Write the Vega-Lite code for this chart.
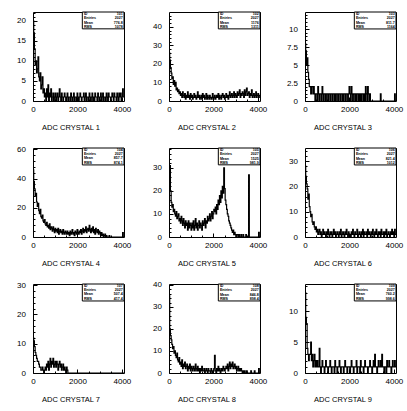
{
"$schema":"https://vega.github.io/schema/vega-lite/v6.json",
"padding":{"left":16,"top":11,"right":0,"bottom":0},
"bounds":"flush",
"columns":3,
"spacing":{"row":47,"column":45},
"datasets":{
"h1":[{"x":0,"y":20},{"x":32,"y":17},{"x":64,"y":13},{"x":96,"y":9},{"x":128,"y":10},{"x":160,"y":7},{"x":192,"y":8},{"x":224,"y":11},{"x":256,"y":6},{"x":288,"y":5},{"x":320,"y":7},{"x":352,"y":3},{"x":384,"y":4},{"x":416,"y":6},{"x":448,"y":2},{"x":480,"y":3},
{"x":512,"y":1},{"x":544,"y":2},{"x":576,"y":0},{"x":608,"y":3},{"x":640,"y":1},{"x":672,"y":4},{"x":704,"y":0},{"x":736,"y":2},{"x":768,"y":1},{"x":800,"y":3},{"x":832,"y":0},{"x":864,"y":1},{"x":896,"y":2},{"x":928,"y":0},{"x":960,"y":1},{"x":992,"y":2},
{"x":1024,"y":0},{"x":1056,"y":1},{"x":1088,"y":2},{"x":1120,"y":0},{"x":1152,"y":1},{"x":1184,"y":3},{"x":1216,"y":1},{"x":1248,"y":0},{"x":1280,"y":2},{"x":1312,"y":1},{"x":1344,"y":0},{"x":1376,"y":1},{"x":1408,"y":2},{"x":1440,"y":1},{"x":1472,"y":0},{"x":1504,"y":1},
{"x":1536,"y":2},{"x":1568,"y":0},{"x":1600,"y":1},{"x":1632,"y":1},{"x":1664,"y":0},{"x":1696,"y":2},{"x":1728,"y":1},{"x":1760,"y":0},{"x":1792,"y":1},{"x":1824,"y":2},{"x":1856,"y":0},{"x":1888,"y":1},{"x":1920,"y":1},{"x":1952,"y":0},{"x":1984,"y":2},{"x":2016,"y":1},
{"x":2048,"y":0},{"x":2080,"y":1},{"x":2112,"y":2},{"x":2144,"y":1},{"x":2176,"y":0},{"x":2208,"y":1},{"x":2240,"y":1},{"x":2272,"y":2},{"x":2304,"y":0},{"x":2336,"y":1},{"x":2368,"y":2},{"x":2400,"y":0},{"x":2432,"y":1},{"x":2464,"y":1},{"x":2496,"y":0},{"x":2528,"y":2},
{"x":2560,"y":1},{"x":2592,"y":0},{"x":2624,"y":1},{"x":2656,"y":2},{"x":2688,"y":0},{"x":2720,"y":1},{"x":2752,"y":0},{"x":2784,"y":2},{"x":2816,"y":1},{"x":2848,"y":1},{"x":2880,"y":0},{"x":2912,"y":2},{"x":2944,"y":1},{"x":2976,"y":0},{"x":3008,"y":1},{"x":3040,"y":2},
{"x":3072,"y":0},{"x":3104,"y":1},{"x":3136,"y":2},{"x":3168,"y":0},{"x":3200,"y":1},{"x":3232,"y":1},{"x":3264,"y":0},{"x":3296,"y":2},{"x":3328,"y":1},{"x":3360,"y":0},{"x":3392,"y":2},{"x":3424,"y":1},{"x":3456,"y":1},{"x":3488,"y":0},{"x":3520,"y":1},{"x":3552,"y":2},
{"x":3584,"y":1},{"x":3616,"y":0},{"x":3648,"y":2},{"x":3680,"y":1},{"x":3712,"y":1},{"x":3744,"y":0},{"x":3776,"y":2},{"x":3808,"y":1},{"x":3840,"y":0},{"x":3872,"y":2},{"x":3904,"y":1},{"x":3936,"y":2},{"x":3968,"y":0},{"x":4000,"y":1},{"x":4032,"y":3},{"x":4064,"y":1},{"x":4096,"y":1}],
"h2":[{"x":0,"y":26},{"x":32,"y":22},{"x":64,"y":18},{"x":96,"y":15},{"x":128,"y":12},{"x":160,"y":13},{"x":192,"y":9},{"x":224,"y":11},{"x":256,"y":8},{"x":288,"y":10},{"x":320,"y":6},{"x":352,"y":7},{"x":384,"y":5},{"x":416,"y":6},{"x":448,"y":4},{"x":480,"y":5},
{"x":512,"y":3},{"x":544,"y":4},{"x":576,"y":2},{"x":608,"y":5},{"x":640,"y":3},{"x":672,"y":2},{"x":704,"y":4},{"x":736,"y":1},{"x":768,"y":3},{"x":800,"y":2},{"x":832,"y":5},{"x":864,"y":2},{"x":896,"y":3},{"x":928,"y":1},{"x":960,"y":4},{"x":992,"y":2},
{"x":1024,"y":3},{"x":1056,"y":1},{"x":1088,"y":2},{"x":1120,"y":4},{"x":1152,"y":2},{"x":1184,"y":3},{"x":1216,"y":1},{"x":1248,"y":2},{"x":1280,"y":5},{"x":1312,"y":2},{"x":1344,"y":3},{"x":1376,"y":1},{"x":1408,"y":2},{"x":1440,"y":3},{"x":1472,"y":1},{"x":1504,"y":4},
{"x":1536,"y":2},{"x":1568,"y":3},{"x":1600,"y":1},{"x":1632,"y":2},{"x":1664,"y":4},{"x":1696,"y":1},{"x":1728,"y":3},{"x":1760,"y":2},{"x":1792,"y":1},{"x":1824,"y":3},{"x":1856,"y":2},{"x":1888,"y":1},{"x":1920,"y":2},{"x":1952,"y":4},{"x":1984,"y":1},{"x":2016,"y":2},
{"x":2048,"y":3},{"x":2080,"y":1},{"x":2112,"y":2},{"x":2144,"y":3},{"x":2176,"y":2},{"x":2208,"y":4},{"x":2240,"y":1},{"x":2272,"y":3},{"x":2304,"y":2},{"x":2336,"y":1},{"x":2368,"y":3},{"x":2400,"y":4},{"x":2432,"y":2},{"x":2464,"y":3},{"x":2496,"y":1},{"x":2528,"y":2},
{"x":2560,"y":4},{"x":2592,"y":2},{"x":2624,"y":3},{"x":2656,"y":1},{"x":2688,"y":3},{"x":2720,"y":5},{"x":2752,"y":2},{"x":2784,"y":3},{"x":2816,"y":4},{"x":2848,"y":2},{"x":2880,"y":3},{"x":2912,"y":5},{"x":2944,"y":2},{"x":2976,"y":4},{"x":3008,"y":3},{"x":3040,"y":2},
{"x":3072,"y":5},{"x":3104,"y":3},{"x":3136,"y":4},{"x":3168,"y":6},{"x":3200,"y":2},{"x":3232,"y":4},{"x":3264,"y":3},{"x":3296,"y":5},{"x":3328,"y":4},{"x":3360,"y":2},{"x":3392,"y":6},{"x":3424,"y":3},{"x":3456,"y":5},{"x":3488,"y":7},{"x":3520,"y":3},{"x":3552,"y":4},
{"x":3584,"y":5},{"x":3616,"y":2},{"x":3648,"y":4},{"x":3680,"y":3},{"x":3712,"y":6},{"x":3744,"y":2},{"x":3776,"y":3},{"x":3808,"y":4},{"x":3840,"y":2},{"x":3872,"y":3},{"x":3904,"y":5},{"x":3936,"y":2},{"x":3968,"y":3},{"x":4000,"y":4},{"x":4032,"y":2},{"x":4064,"y":3},{"x":4096,"y":3}],
"h3":[{"x":0,"y":8},{"x":32,"y":7},{"x":64,"y":5},{"x":96,"y":6},{"x":128,"y":4},{"x":160,"y":3},{"x":192,"y":2},{"x":224,"y":2},{"x":256,"y":1},{"x":288,"y":2},{"x":320,"y":2},{"x":352,"y":1},{"x":384,"y":2},{"x":416,"y":1},{"x":448,"y":0},{"x":480,"y":1},
{"x":512,"y":1},{"x":544,"y":0},{"x":576,"y":2},{"x":608,"y":1},{"x":640,"y":0},{"x":672,"y":1},{"x":704,"y":1},{"x":736,"y":0},{"x":768,"y":2},{"x":800,"y":1},{"x":832,"y":0},{"x":864,"y":1},{"x":896,"y":1},{"x":928,"y":0},{"x":960,"y":1},{"x":992,"y":1},
{"x":1024,"y":0},{"x":1056,"y":1},{"x":1088,"y":1},{"x":1120,"y":0},{"x":1152,"y":1},{"x":1184,"y":1},{"x":1216,"y":0},{"x":1248,"y":1},{"x":1280,"y":1},{"x":1312,"y":0},{"x":1344,"y":1},{"x":1376,"y":0},{"x":1408,"y":1},{"x":1440,"y":1},{"x":1472,"y":0},{"x":1504,"y":1},
{"x":1536,"y":1},{"x":1568,"y":0},{"x":1600,"y":1},{"x":1632,"y":1},{"x":1664,"y":0},{"x":1696,"y":1},{"x":1728,"y":0},{"x":1760,"y":1},{"x":1792,"y":1},{"x":1824,"y":0},{"x":1856,"y":1},{"x":1888,"y":1},{"x":1920,"y":0},{"x":1952,"y":1},{"x":1984,"y":2},{"x":2016,"y":1},
{"x":2048,"y":0},{"x":2080,"y":2},{"x":2112,"y":1},{"x":2144,"y":0},{"x":2176,"y":1},{"x":2208,"y":1},{"x":2240,"y":0},{"x":2272,"y":1},{"x":2304,"y":0},{"x":2336,"y":1},{"x":2368,"y":1},{"x":2400,"y":0},{"x":2432,"y":1},{"x":2464,"y":0},{"x":2496,"y":1},{"x":2528,"y":0},
{"x":2560,"y":1},{"x":2592,"y":1},{"x":2624,"y":0},{"x":2656,"y":1},{"x":2688,"y":0},{"x":2720,"y":2},{"x":2752,"y":1},{"x":2784,"y":0},{"x":2816,"y":2},{"x":2848,"y":1},{"x":2880,"y":0},{"x":2912,"y":1},{"x":2944,"y":0},{"x":2976,"y":0},{"x":3008,"y":0},{"x":3040,"y":0},
{"x":3072,"y":0},{"x":3104,"y":0},{"x":3136,"y":0},{"x":3168,"y":0},{"x":3200,"y":0},{"x":3232,"y":0},{"x":3264,"y":0},{"x":3296,"y":0},{"x":3328,"y":0},{"x":3360,"y":0},{"x":3392,"y":1},{"x":3424,"y":0},{"x":3456,"y":0},{"x":3488,"y":0},{"x":3520,"y":0},{"x":3552,"y":0},
{"x":3584,"y":0},{"x":3616,"y":0},{"x":3648,"y":0},{"x":3680,"y":0},{"x":3712,"y":0},{"x":3744,"y":0},{"x":3776,"y":0},{"x":3808,"y":0},{"x":3840,"y":0},{"x":3872,"y":0},{"x":3904,"y":0},{"x":3936,"y":0},{"x":3968,"y":0},{"x":4000,"y":0},{"x":4032,"y":1},{"x":4064,"y":0},{"x":4096,"y":0}],
"h4":[{"x":0,"y":46},{"x":32,"y":38},{"x":64,"y":33},{"x":96,"y":28},{"x":128,"y":30},{"x":160,"y":24},{"x":192,"y":21},{"x":224,"y":23},{"x":256,"y":18},{"x":288,"y":16},{"x":320,"y":19},{"x":352,"y":14},{"x":384,"y":13},{"x":416,"y":15},{"x":448,"y":11},{"x":480,"y":10},
{"x":512,"y":12},{"x":544,"y":9},{"x":576,"y":8},{"x":608,"y":10},{"x":640,"y":7},{"x":672,"y":8},{"x":704,"y":6},{"x":736,"y":9},{"x":768,"y":5},{"x":800,"y":7},{"x":832,"y":6},{"x":864,"y":4},{"x":896,"y":7},{"x":928,"y":5},{"x":960,"y":3},{"x":992,"y":6},
{"x":1024,"y":4},{"x":1056,"y":5},{"x":1088,"y":3},{"x":1120,"y":6},{"x":1152,"y":2},{"x":1184,"y":4},{"x":1216,"y":5},{"x":1248,"y":3},{"x":1280,"y":4},{"x":1312,"y":2},{"x":1344,"y":5},{"x":1376,"y":3},{"x":1408,"y":2},{"x":1440,"y":4},{"x":1472,"y":3},{"x":1504,"y":2},
{"x":1536,"y":4},{"x":1568,"y":2},{"x":1600,"y":3},{"x":1632,"y":1},{"x":1664,"y":4},{"x":1696,"y":2},{"x":1728,"y":3},{"x":1760,"y":5},{"x":1792,"y":2},{"x":1824,"y":3},{"x":1856,"y":1},{"x":1888,"y":4},{"x":1920,"y":3},{"x":1952,"y":2},{"x":1984,"y":5},{"x":2016,"y":3},
{"x":2048,"y":2},{"x":2080,"y":4},{"x":2112,"y":3},{"x":2144,"y":5},{"x":2176,"y":2},{"x":2208,"y":4},{"x":2240,"y":6},{"x":2272,"y":3},{"x":2304,"y":5},{"x":2336,"y":4},{"x":2368,"y":7},{"x":2400,"y":3},{"x":2432,"y":5},{"x":2464,"y":6},{"x":2496,"y":4},{"x":2528,"y":8},
{"x":2560,"y":5},{"x":2592,"y":3},{"x":2624,"y":6},{"x":2656,"y":4},{"x":2688,"y":7},{"x":2720,"y":3},{"x":2752,"y":5},{"x":2784,"y":2},{"x":2816,"y":6},{"x":2848,"y":4},{"x":2880,"y":3},{"x":2912,"y":5},{"x":2944,"y":2},{"x":2976,"y":4},{"x":3008,"y":3},{"x":3040,"y":1},
{"x":3072,"y":3},{"x":3104,"y":1},{"x":3136,"y":2},{"x":3168,"y":0},{"x":3200,"y":1},{"x":3232,"y":2},{"x":3264,"y":0},{"x":3296,"y":1},{"x":3328,"y":0},{"x":3360,"y":0},{"x":3392,"y":0},{"x":3424,"y":1},{"x":3456,"y":0},{"x":3488,"y":0},{"x":3520,"y":0},{"x":3552,"y":0},
{"x":3584,"y":0},{"x":3616,"y":0},{"x":3648,"y":0},{"x":3680,"y":0},{"x":3712,"y":0},{"x":3744,"y":0},{"x":3776,"y":0},{"x":3808,"y":0},{"x":3840,"y":0},{"x":3872,"y":0},{"x":3904,"y":0},{"x":3936,"y":0},{"x":3968,"y":0},{"x":4000,"y":0},{"x":4032,"y":3},{"x":4064,"y":0},{"x":4096,"y":0}],
"h5":[{"x":0,"y":24},{"x":32,"y":31},{"x":64,"y":20},{"x":96,"y":15},{"x":128,"y":13},{"x":160,"y":14},{"x":192,"y":11},{"x":224,"y":12},{"x":256,"y":10},{"x":288,"y":9},{"x":320,"y":11},{"x":352,"y":8},{"x":384,"y":9},{"x":416,"y":10},{"x":448,"y":7},{"x":480,"y":8},
{"x":512,"y":6},{"x":544,"y":9},{"x":576,"y":7},{"x":608,"y":5},{"x":640,"y":8},{"x":672,"y":6},{"x":704,"y":4},{"x":736,"y":7},{"x":768,"y":5},{"x":800,"y":6},{"x":832,"y":3},{"x":864,"y":7},{"x":896,"y":4},{"x":928,"y":6},{"x":960,"y":5},{"x":992,"y":3},
{"x":1024,"y":6},{"x":1056,"y":4},{"x":1088,"y":7},{"x":1120,"y":3},{"x":1152,"y":5},{"x":1184,"y":8},{"x":1216,"y":4},{"x":1248,"y":6},{"x":1280,"y":3},{"x":1312,"y":5},{"x":1344,"y":7},{"x":1376,"y":4},{"x":1408,"y":6},{"x":1440,"y":5},{"x":1472,"y":3},{"x":1504,"y":7},
{"x":1536,"y":5},{"x":1568,"y":6},{"x":1600,"y":8},{"x":1632,"y":4},{"x":1664,"y":7},{"x":1696,"y":6},{"x":1728,"y":9},{"x":1760,"y":7},{"x":1792,"y":8},{"x":1824,"y":10},{"x":1856,"y":7},{"x":1888,"y":9},{"x":1920,"y":11},{"x":1952,"y":8},{"x":1984,"y":10},{"x":2016,"y":12},
{"x":2048,"y":11},{"x":2080,"y":13},{"x":2112,"y":10},{"x":2144,"y":14},{"x":2176,"y":12},{"x":2208,"y":16},{"x":2240,"y":14},{"x":2272,"y":18},{"x":2304,"y":15},{"x":2336,"y":20},{"x":2368,"y":17},{"x":2400,"y":22},{"x":2432,"y":19},{"x":2464,"y":30},{"x":2496,"y":21},{"x":2528,"y":16},
{"x":2560,"y":14},{"x":2592,"y":12},{"x":2624,"y":10},{"x":2656,"y":9},{"x":2688,"y":7},{"x":2720,"y":6},{"x":2752,"y":5},{"x":2784,"y":4},{"x":2816,"y":3},{"x":2848,"y":2},{"x":2880,"y":3},{"x":2912,"y":1},{"x":2944,"y":2},{"x":2976,"y":1},{"x":3008,"y":0},{"x":3040,"y":1},
{"x":3072,"y":1},{"x":3104,"y":0},{"x":3136,"y":1},{"x":3168,"y":0},{"x":3200,"y":0},{"x":3232,"y":1},{"x":3264,"y":0},{"x":3296,"y":0},{"x":3328,"y":1},{"x":3360,"y":0},{"x":3392,"y":0},{"x":3424,"y":0},{"x":3456,"y":1},{"x":3488,"y":0},{"x":3520,"y":0},{"x":3552,"y":0},
{"x":3584,"y":27},{"x":3616,"y":0},{"x":3648,"y":0},{"x":3680,"y":0},{"x":3712,"y":0},{"x":3744,"y":0},{"x":3776,"y":0},{"x":3808,"y":0},{"x":3840,"y":0},{"x":3872,"y":0},{"x":3904,"y":0},{"x":3936,"y":0},{"x":3968,"y":0},{"x":4000,"y":0},{"x":4032,"y":2},{"x":4064,"y":0},{"x":4096,"y":0}],
"h6":[{"x":0,"y":28},{"x":32,"y":24},{"x":64,"y":21},{"x":96,"y":19},{"x":128,"y":15},{"x":160,"y":17},{"x":192,"y":12},{"x":224,"y":10},{"x":256,"y":8},{"x":288,"y":9},{"x":320,"y":6},{"x":352,"y":5},{"x":384,"y":6},{"x":416,"y":4},{"x":448,"y":3},{"x":480,"y":4},
{"x":512,"y":2},{"x":544,"y":3},{"x":576,"y":1},{"x":608,"y":2},{"x":640,"y":3},{"x":672,"y":1},{"x":704,"y":2},{"x":736,"y":0},{"x":768,"y":1},{"x":800,"y":3},{"x":832,"y":1},{"x":864,"y":2},{"x":896,"y":1},{"x":928,"y":0},{"x":960,"y":2},{"x":992,"y":1},
{"x":1024,"y":3},{"x":1056,"y":1},{"x":1088,"y":0},{"x":1120,"y":2},{"x":1152,"y":1},{"x":1184,"y":2},{"x":1216,"y":0},{"x":1248,"y":1},{"x":1280,"y":3},{"x":1312,"y":1},{"x":1344,"y":2},{"x":1376,"y":0},{"x":1408,"y":1},{"x":1440,"y":2},{"x":1472,"y":1},{"x":1504,"y":0},
{"x":1536,"y":2},{"x":1568,"y":1},{"x":1600,"y":3},{"x":1632,"y":0},{"x":1664,"y":1},{"x":1696,"y":2},{"x":1728,"y":1},{"x":1760,"y":0},{"x":1792,"y":2},{"x":1824,"y":1},{"x":1856,"y":3},{"x":1888,"y":1},{"x":1920,"y":0},{"x":1952,"y":2},{"x":1984,"y":1},{"x":2016,"y":1},
{"x":2048,"y":0},{"x":2080,"y":2},{"x":2112,"y":1},{"x":2144,"y":3},{"x":2176,"y":1},{"x":2208,"y":0},{"x":2240,"y":2},{"x":2272,"y":1},{"x":2304,"y":1},{"x":2336,"y":3},{"x":2368,"y":0},{"x":2400,"y":1},{"x":2432,"y":2},{"x":2464,"y":1},{"x":2496,"y":0},{"x":2528,"y":2},
{"x":2560,"y":1},{"x":2592,"y":3},{"x":2624,"y":0},{"x":2656,"y":2},{"x":2688,"y":1},{"x":2720,"y":1},{"x":2752,"y":2},{"x":2784,"y":0},{"x":2816,"y":3},{"x":2848,"y":1},{"x":2880,"y":2},{"x":2912,"y":1},{"x":2944,"y":0},{"x":2976,"y":2},{"x":3008,"y":1},{"x":3040,"y":3},
{"x":3072,"y":1},{"x":3104,"y":0},{"x":3136,"y":2},{"x":3168,"y":1},{"x":3200,"y":3},{"x":3232,"y":1},{"x":3264,"y":0},{"x":3296,"y":2},{"x":3328,"y":1},{"x":3360,"y":2},{"x":3392,"y":0},{"x":3424,"y":3},{"x":3456,"y":1},{"x":3488,"y":1},{"x":3520,"y":2},{"x":3552,"y":0},
{"x":3584,"y":2},{"x":3616,"y":1},{"x":3648,"y":3},{"x":3680,"y":0},{"x":3712,"y":1},{"x":3744,"y":2},{"x":3776,"y":1},{"x":3808,"y":0},{"x":3840,"y":2},{"x":3872,"y":1},{"x":3904,"y":3},{"x":3936,"y":1},{"x":3968,"y":2},{"x":4000,"y":0},{"x":4032,"y":3},{"x":4064,"y":1},{"x":4096,"y":1}],
"h7":[{"x":0,"y":12},{"x":32,"y":11},{"x":64,"y":9},{"x":96,"y":7},{"x":128,"y":6},{"x":160,"y":5},{"x":192,"y":4},{"x":224,"y":4},{"x":256,"y":3},{"x":288,"y":2},{"x":320,"y":2},{"x":352,"y":1},{"x":384,"y":1},{"x":416,"y":2},{"x":448,"y":1},{"x":480,"y":0},
{"x":512,"y":1},{"x":544,"y":2},{"x":576,"y":1},{"x":608,"y":3},{"x":640,"y":2},{"x":672,"y":4},{"x":704,"y":1},{"x":736,"y":3},{"x":768,"y":5},{"x":800,"y":2},{"x":832,"y":4},{"x":864,"y":3},{"x":896,"y":5},{"x":928,"y":2},{"x":960,"y":3},{"x":992,"y":4},
{"x":1024,"y":2},{"x":1056,"y":4},{"x":1088,"y":3},{"x":1120,"y":1},{"x":1152,"y":3},{"x":1184,"y":4},{"x":1216,"y":2},{"x":1248,"y":3},{"x":1280,"y":1},{"x":1312,"y":2},{"x":1344,"y":3},{"x":1376,"y":1},{"x":1408,"y":2},{"x":1440,"y":1},{"x":1472,"y":0},{"x":1504,"y":2},
{"x":1536,"y":1},{"x":1568,"y":0},{"x":1600,"y":0},{"x":1632,"y":0},{"x":1664,"y":0},{"x":1696,"y":0},{"x":1728,"y":0},{"x":1760,"y":0},{"x":1792,"y":0},{"x":1824,"y":0},{"x":1856,"y":0},{"x":1888,"y":0},{"x":1920,"y":0},{"x":1952,"y":0},{"x":1984,"y":0},{"x":2016,"y":0},
{"x":2048,"y":0},{"x":2080,"y":0},{"x":2112,"y":0},{"x":2144,"y":0},{"x":2176,"y":0},{"x":2208,"y":0},{"x":2240,"y":0},{"x":2272,"y":0},{"x":2304,"y":0},{"x":2336,"y":0},{"x":2368,"y":0},{"x":2400,"y":0},{"x":2432,"y":0},{"x":2464,"y":0},{"x":2496,"y":0},{"x":2528,"y":0},
{"x":2560,"y":0},{"x":2592,"y":0},{"x":2624,"y":0},{"x":2656,"y":0},{"x":2688,"y":0},{"x":2720,"y":0},{"x":2752,"y":0},{"x":2784,"y":0},{"x":2816,"y":0},{"x":2848,"y":0},{"x":2880,"y":0},{"x":2912,"y":0},{"x":2944,"y":0},{"x":2976,"y":0},{"x":3008,"y":0},{"x":3040,"y":0},
{"x":3072,"y":0},{"x":3104,"y":0},{"x":3136,"y":0},{"x":3168,"y":0},{"x":3200,"y":0},{"x":3232,"y":0},{"x":3264,"y":0},{"x":3296,"y":0},{"x":3328,"y":0},{"x":3360,"y":0},{"x":3392,"y":0},{"x":3424,"y":0},{"x":3456,"y":0},{"x":3488,"y":0},{"x":3520,"y":0},{"x":3552,"y":0},
{"x":3584,"y":0},{"x":3616,"y":0},{"x":3648,"y":0},{"x":3680,"y":0},{"x":3712,"y":0},{"x":3744,"y":0},{"x":3776,"y":0},{"x":3808,"y":0},{"x":3840,"y":0},{"x":3872,"y":0},{"x":3904,"y":0},{"x":3936,"y":0},{"x":3968,"y":0},{"x":4000,"y":0},{"x":4032,"y":0},{"x":4064,"y":0},{"x":4096,"y":0}],
"h8":[{"x":0,"y":35},{"x":32,"y":20},{"x":64,"y":17},{"x":96,"y":15},{"x":128,"y":13},{"x":160,"y":11},{"x":192,"y":12},{"x":224,"y":9},{"x":256,"y":10},{"x":288,"y":8},{"x":320,"y":7},{"x":352,"y":9},{"x":384,"y":6},{"x":416,"y":5},{"x":448,"y":7},{"x":480,"y":4},
{"x":512,"y":5},{"x":544,"y":3},{"x":576,"y":6},{"x":608,"y":2},{"x":640,"y":4},{"x":672,"y":3},{"x":704,"y":5},{"x":736,"y":2},{"x":768,"y":3},{"x":800,"y":4},{"x":832,"y":1},{"x":864,"y":3},{"x":896,"y":2},{"x":928,"y":4},{"x":960,"y":1},{"x":992,"y":3},
{"x":1024,"y":2},{"x":1056,"y":1},{"x":1088,"y":3},{"x":1120,"y":2},{"x":1152,"y":1},{"x":1184,"y":4},{"x":1216,"y":2},{"x":1248,"y":1},{"x":1280,"y":3},{"x":1312,"y":1},{"x":1344,"y":2},{"x":1376,"y":0},{"x":1408,"y":2},{"x":1440,"y":1},{"x":1472,"y":3},{"x":1504,"y":1},
{"x":1536,"y":1},{"x":1568,"y":2},{"x":1600,"y":0},{"x":1632,"y":1},{"x":1664,"y":2},{"x":1696,"y":1},{"x":1728,"y":0},{"x":1760,"y":2},{"x":1792,"y":1},{"x":1824,"y":1},{"x":1856,"y":0},{"x":1888,"y":2},{"x":1920,"y":1},{"x":1952,"y":0},{"x":1984,"y":1},{"x":2016,"y":2},
{"x":2048,"y":8},{"x":2080,"y":1},{"x":2112,"y":0},{"x":2144,"y":2},{"x":2176,"y":1},{"x":2208,"y":3},{"x":2240,"y":1},{"x":2272,"y":2},{"x":2304,"y":0},{"x":2336,"y":1},{"x":2368,"y":2},{"x":2400,"y":1},{"x":2432,"y":3},{"x":2464,"y":2},{"x":2496,"y":1},{"x":2528,"y":2},
{"x":2560,"y":3},{"x":2592,"y":2},{"x":2624,"y":4},{"x":2656,"y":1},{"x":2688,"y":3},{"x":2720,"y":5},{"x":2752,"y":2},{"x":2784,"y":4},{"x":2816,"y":3},{"x":2848,"y":5},{"x":2880,"y":2},{"x":2912,"y":3},{"x":2944,"y":4},{"x":2976,"y":2},{"x":3008,"y":3},{"x":3040,"y":1},
{"x":3072,"y":2},{"x":3104,"y":3},{"x":3136,"y":1},{"x":3168,"y":2},{"x":3200,"y":1},{"x":3232,"y":2},{"x":3264,"y":1},{"x":3296,"y":0},{"x":3328,"y":1},{"x":3360,"y":0},{"x":3392,"y":1},{"x":3424,"y":0},{"x":3456,"y":0},{"x":3488,"y":1},{"x":3520,"y":0},{"x":3552,"y":0},
{"x":3584,"y":0},{"x":3616,"y":0},{"x":3648,"y":0},{"x":3680,"y":1},{"x":3712,"y":0},{"x":3744,"y":0},{"x":3776,"y":0},{"x":3808,"y":0},{"x":3840,"y":1},{"x":3872,"y":0},{"x":3904,"y":0},{"x":3936,"y":0},{"x":3968,"y":0},{"x":4000,"y":0},{"x":4032,"y":2},{"x":4064,"y":0},{"x":4096,"y":0}],
"h9":[{"x":0,"y":13},{"x":32,"y":9},{"x":64,"y":8},{"x":96,"y":4},{"x":128,"y":3},{"x":160,"y":2},{"x":192,"y":3},{"x":224,"y":3},{"x":256,"y":5},{"x":288,"y":2},{"x":320,"y":3},{"x":352,"y":1},{"x":384,"y":2},{"x":416,"y":3},{"x":448,"y":1},{"x":480,"y":2},
{"x":512,"y":1},{"x":544,"y":2},{"x":576,"y":1},{"x":608,"y":1},{"x":640,"y":4},{"x":672,"y":1},{"x":704,"y":0},{"x":736,"y":1},{"x":768,"y":2},{"x":800,"y":1},{"x":832,"y":1},{"x":864,"y":0},{"x":896,"y":1},{"x":928,"y":2},{"x":960,"y":1},{"x":992,"y":1},
{"x":1024,"y":0},{"x":1056,"y":1},{"x":1088,"y":1},{"x":1120,"y":2},{"x":1152,"y":1},{"x":1184,"y":0},{"x":1216,"y":1},{"x":1248,"y":1},{"x":1280,"y":1},{"x":1312,"y":0},{"x":1344,"y":2},{"x":1376,"y":1},{"x":1408,"y":1},{"x":1440,"y":0},{"x":1472,"y":1},{"x":1504,"y":1},
{"x":1536,"y":2},{"x":1568,"y":1},{"x":1600,"y":0},{"x":1632,"y":1},{"x":1664,"y":1},{"x":1696,"y":1},{"x":1728,"y":0},{"x":1760,"y":1},{"x":1792,"y":2},{"x":1824,"y":1},{"x":1856,"y":1},{"x":1888,"y":0},{"x":1920,"y":1},{"x":1952,"y":1},{"x":1984,"y":1},{"x":2016,"y":0},
{"x":2048,"y":1},{"x":2080,"y":2},{"x":2112,"y":1},{"x":2144,"y":1},{"x":2176,"y":0},{"x":2208,"y":1},{"x":2240,"y":1},{"x":2272,"y":1},{"x":2304,"y":2},{"x":2336,"y":0},{"x":2368,"y":1},{"x":2400,"y":1},{"x":2432,"y":1},{"x":2464,"y":0},{"x":2496,"y":2},{"x":2528,"y":1},
{"x":2560,"y":1},{"x":2592,"y":1},{"x":2624,"y":0},{"x":2656,"y":1},{"x":2688,"y":2},{"x":2720,"y":1},{"x":2752,"y":1},{"x":2784,"y":1},{"x":2816,"y":0},{"x":2848,"y":1},{"x":2880,"y":1},{"x":2912,"y":2},{"x":2944,"y":1},{"x":2976,"y":1},{"x":3008,"y":0},{"x":3040,"y":1},
{"x":3072,"y":2},{"x":3104,"y":1},{"x":3136,"y":3},{"x":3168,"y":1},{"x":3200,"y":1},{"x":3232,"y":0},{"x":3264,"y":1},{"x":3296,"y":2},{"x":3328,"y":1},{"x":3360,"y":1},{"x":3392,"y":2},{"x":3424,"y":1},{"x":3456,"y":3},{"x":3488,"y":1},{"x":3520,"y":1},{"x":3552,"y":0},
{"x":3584,"y":1},{"x":3616,"y":1},{"x":3648,"y":0},{"x":3680,"y":2},{"x":3712,"y":1},{"x":3744,"y":1},{"x":3776,"y":2},{"x":3808,"y":1},{"x":3840,"y":1},{"x":3872,"y":0},{"x":3904,"y":1},{"x":3936,"y":2},{"x":3968,"y":1},{"x":4000,"y":1},{"x":4032,"y":2},{"x":4064,"y":1},{"x":4096,"y":1}],
"st":[
{"p":1,"k":["ID","Entries","Mean","RMS"],"v":["101","2027","776.8","1078"]},
{"p":2,"k":["ID","Entries","Mean","RMS"],"v":["102","2027","1176","1311"]},
{"p":3,"k":["ID","Entries","Mean","RMS"],"v":["103","2027","811.7","1164"]},
{"p":4,"k":["ID","Entries","Mean","RMS"],"v":["104","2027","857.7","874.1"]},
{"p":5,"k":["ID","Entries","Mean","RMS"],"v":["105","2027","1525","981.9"]},
{"p":6,"k":["ID","Entries","Mean","RMS"],"v":["106","2027","821.4","1012"]},
{"p":7,"k":["ID","Entries","Mean","RMS"],"v":["107","2027","507.4","417.4"]},
{"p":8,"k":["ID","Entries","Mean","RMS"],"v":["108","2027","846.8","898.4"]},
{"p":9,"k":["ID","Entries","Mean","RMS"],"v":["109","2027","760.2","998.6"]}
]},
"concat":[
{"width":91,"height":89,"resolve":{"axis":{"x":"independent","y":"independent"}},"layer":[
{"data":{"name":"h1"},"mark":{"type":"line","interpolate":"step-after","color":"black","strokeWidth":1.2},"encoding":{"x":{"field":"x","type":"quantitative","scale":{"domain":[0,4096],"nice":false,"zero":false},"axis":{"values":[0,2000,4000],"tickCount":20,"format":"d","title":"ADC CRYSTAL 1","orient":"bottom"}},"y":{"field":"y","type":"quantitative","scale":{"domain":[0,22.2],"nice":false},"axis":{"values":[0,5,10,15,20],"tickCount":20,"format":"~r","title":null,"orient":"left"}}}},
{"data":{"name":"h1"},"mark":{"type":"point","opacity":0},"encoding":{"x":{"field":"x","type":"quantitative","axis":{"values":[500,1000,1500,2500,3000,3500],"tickCount":50,"labels":false,"tickSize":-2,"title":null,"orient":"bottom"}},"y":{"field":"y","type":"quantitative","axis":{"values":[1,2,3,4,6,7,8,9,11,12,13,14,16,17,18,19,21,22],"tickCount":50,"labels":false,"tickSize":-2,"title":null,"orient":"left"}}}},
{"data":{"name":"st"},"transform":[{"filter":"datum.p==1"}],"mark":{"type":"rect","fill":"white","stroke":"black","strokeWidth":1},"encoding":{"x":{"datum":2220,"axis":null},"x2":{"datum":4096},"y":{"datum":18.0,"axis":null},"y2":{"datum":22.2}}},
{"data":{"name":"st"},"transform":[{"filter":"datum.p==1"}],"mark":{"type":"text","align":"left","baseline":"top","fontSize":3.6,"lineHeight":4.1,"fontWeight":"bold","color":"black"},"encoding":{"x":{"datum":2290,"axis":null},"y":{"datum":22.1,"axis":null},"text":{"field":"k"}}},
{"data":{"name":"st"},"transform":[{"filter":"datum.p==1"}],"mark":{"type":"text","align":"right","baseline":"top","fontSize":3.6,"lineHeight":4.1,"fontWeight":"bold","color":"black"},"encoding":{"x":{"datum":4040,"axis":null},"y":{"datum":22.1,"axis":null},"text":{"field":"v"}}}
]},
{"width":91,"height":89,"resolve":{"axis":{"x":"independent","y":"independent"}},"layer":[
{"data":{"name":"h2"},"mark":{"type":"line","interpolate":"step-after","color":"black","strokeWidth":1.2},"encoding":{"x":{"field":"x","type":"quantitative","scale":{"domain":[0,4096],"nice":false,"zero":false},"axis":{"values":[0,2000,4000],"tickCount":20,"format":"d","title":"ADC CRYSTAL 2","orient":"bottom"}},"y":{"field":"y","type":"quantitative","scale":{"domain":[0,48],"nice":false},"axis":{"values":[0,10,20,30,40],"tickCount":20,"format":"~r","title":null,"orient":"left"}}}},
{"data":{"name":"h2"},"mark":{"type":"point","opacity":0},"encoding":{"x":{"field":"x","type":"quantitative","axis":{"values":[500,1000,1500,2500,3000,3500],"tickCount":50,"labels":false,"tickSize":-2,"title":null,"orient":"bottom"}},"y":{"field":"y","type":"quantitative","axis":{"values":[2,4,6,8,12,14,16,18,22,24,26,28,32,34,36,38,42,44,46],"tickCount":50,"labels":false,"tickSize":-2,"title":null,"orient":"left"}}}},
{"data":{"name":"st"},"transform":[{"filter":"datum.p==2"}],"mark":{"type":"rect","fill":"white","stroke":"black","strokeWidth":1},"encoding":{"x":{"datum":2220,"axis":null},"x2":{"datum":4096},"y":{"datum":38.9,"axis":null},"y2":{"datum":48}}},
{"data":{"name":"st"},"transform":[{"filter":"datum.p==2"}],"mark":{"type":"text","align":"left","baseline":"top","fontSize":3.6,"lineHeight":4.1,"fontWeight":"bold","color":"black"},"encoding":{"x":{"datum":2290,"axis":null},"y":{"datum":47.8,"axis":null},"text":{"field":"k"}}},
{"data":{"name":"st"},"transform":[{"filter":"datum.p==2"}],"mark":{"type":"text","align":"right","baseline":"top","fontSize":3.6,"lineHeight":4.1,"fontWeight":"bold","color":"black"},"encoding":{"x":{"datum":4040,"axis":null},"y":{"datum":47.8,"axis":null},"text":{"field":"v"}}}
]},
{"width":91,"height":89,"resolve":{"axis":{"x":"independent","y":"independent"}},"layer":[
{"data":{"name":"h3"},"mark":{"type":"line","interpolate":"step-after","color":"black","strokeWidth":1.2},"encoding":{"x":{"field":"x","type":"quantitative","scale":{"domain":[0,4096],"nice":false,"zero":false},"axis":{"values":[0,2000,4000],"tickCount":20,"format":"d","title":"ADC CRYSTAL 3","orient":"bottom"}},"y":{"field":"y","type":"quantitative","scale":{"domain":[0,12.4],"nice":false},"axis":{"values":[0,2.5,5,7.5,10],"tickCount":20,"format":"~r","title":null,"orient":"left"}}}},
{"data":{"name":"h3"},"mark":{"type":"point","opacity":0},"encoding":{"x":{"field":"x","type":"quantitative","axis":{"values":[500,1000,1500,2500,3000,3500],"tickCount":50,"labels":false,"tickSize":-2,"title":null,"orient":"bottom"}},"y":{"field":"y","type":"quantitative","axis":{"values":[0.5,1,1.5,2,3,3.5,4,4.5,5.5,6,6.5,7,8,8.5,9,9.5,10.5,11,11.5,12],"tickCount":50,"labels":false,"tickSize":-2,"title":null,"orient":"left"}}}},
{"data":{"name":"st"},"transform":[{"filter":"datum.p==3"}],"mark":{"type":"rect","fill":"white","stroke":"black","strokeWidth":1},"encoding":{"x":{"datum":2220,"axis":null},"x2":{"datum":4096},"y":{"datum":10.04,"axis":null},"y2":{"datum":12.4}}},
{"data":{"name":"st"},"transform":[{"filter":"datum.p==3"}],"mark":{"type":"text","align":"left","baseline":"top","fontSize":3.6,"lineHeight":4.1,"fontWeight":"bold","color":"black"},"encoding":{"x":{"datum":2290,"axis":null},"y":{"datum":12.35,"axis":null},"text":{"field":"k"}}},
{"data":{"name":"st"},"transform":[{"filter":"datum.p==3"}],"mark":{"type":"text","align":"right","baseline":"top","fontSize":3.6,"lineHeight":4.1,"fontWeight":"bold","color":"black"},"encoding":{"x":{"datum":4040,"axis":null},"y":{"datum":12.35,"axis":null},"text":{"field":"v"}}}
]},
{"width":91,"height":89,"resolve":{"axis":{"x":"independent","y":"independent"}},"layer":[
{"data":{"name":"h4"},"mark":{"type":"line","interpolate":"step-after","color":"black","strokeWidth":1.2},"encoding":{"x":{"field":"x","type":"quantitative","scale":{"domain":[0,4096],"nice":false,"zero":false},"axis":{"values":[0,2000,4000],"tickCount":20,"format":"d","title":"ADC CRYSTAL 4","orient":"bottom"}},"y":{"field":"y","type":"quantitative","scale":{"domain":[0,61],"nice":false},"axis":{"values":[0,20,40,60],"tickCount":20,"format":"~r","title":null,"orient":"left"}}}},
{"data":{"name":"h4"},"mark":{"type":"point","opacity":0},"encoding":{"x":{"field":"x","type":"quantitative","axis":{"values":[500,1000,1500,2500,3000,3500],"tickCount":50,"labels":false,"tickSize":-2,"title":null,"orient":"bottom"}},"y":{"field":"y","type":"quantitative","axis":{"values":[4,8,12,16,24,28,32,36,44,48,52,56],"tickCount":50,"labels":false,"tickSize":-2,"title":null,"orient":"left"}}}},
{"data":{"name":"st"},"transform":[{"filter":"datum.p==4"}],"mark":{"type":"rect","fill":"white","stroke":"black","strokeWidth":1},"encoding":{"x":{"datum":2220,"axis":null},"x2":{"datum":4096},"y":{"datum":49.4,"axis":null},"y2":{"datum":61}}},
{"data":{"name":"st"},"transform":[{"filter":"datum.p==4"}],"mark":{"type":"text","align":"left","baseline":"top","fontSize":3.6,"lineHeight":4.1,"fontWeight":"bold","color":"black"},"encoding":{"x":{"datum":2290,"axis":null},"y":{"datum":60.8,"axis":null},"text":{"field":"k"}}},
{"data":{"name":"st"},"transform":[{"filter":"datum.p==4"}],"mark":{"type":"text","align":"right","baseline":"top","fontSize":3.6,"lineHeight":4.1,"fontWeight":"bold","color":"black"},"encoding":{"x":{"datum":4040,"axis":null},"y":{"datum":60.8,"axis":null},"text":{"field":"v"}}}
]},
{"width":91,"height":89,"resolve":{"axis":{"x":"independent","y":"independent"}},"layer":[
{"data":{"name":"h5"},"mark":{"type":"line","interpolate":"step-after","color":"black","strokeWidth":1.2},"encoding":{"x":{"field":"x","type":"quantitative","scale":{"domain":[0,4096],"nice":false,"zero":false},"axis":{"values":[0,2000,4000],"tickCount":20,"format":"d","title":"ADC CRYSTAL 5","orient":"bottom"}},"y":{"field":"y","type":"quantitative","scale":{"domain":[0,38.6],"nice":false},"axis":{"values":[0,10,20,30],"tickCount":20,"format":"~r","title":null,"orient":"left"}}}},
{"data":{"name":"h5"},"mark":{"type":"point","opacity":0},"encoding":{"x":{"field":"x","type":"quantitative","axis":{"values":[500,1000,1500,2500,3000,3500],"tickCount":50,"labels":false,"tickSize":-2,"title":null,"orient":"bottom"}},"y":{"field":"y","type":"quantitative","axis":{"values":[2,4,6,8,12,14,16,18,22,24,26,28,32,34,36,38],"tickCount":50,"labels":false,"tickSize":-2,"title":null,"orient":"left"}}}},
{"data":{"name":"st"},"transform":[{"filter":"datum.p==5"}],"mark":{"type":"rect","fill":"white","stroke":"black","strokeWidth":1},"encoding":{"x":{"datum":2220,"axis":null},"x2":{"datum":4096},"y":{"datum":31.3,"axis":null},"y2":{"datum":38.6}}},
{"data":{"name":"st"},"transform":[{"filter":"datum.p==5"}],"mark":{"type":"text","align":"left","baseline":"top","fontSize":3.6,"lineHeight":4.1,"fontWeight":"bold","color":"black"},"encoding":{"x":{"datum":2290,"axis":null},"y":{"datum":38.45,"axis":null},"text":{"field":"k"}}},
{"data":{"name":"st"},"transform":[{"filter":"datum.p==5"}],"mark":{"type":"text","align":"right","baseline":"top","fontSize":3.6,"lineHeight":4.1,"fontWeight":"bold","color":"black"},"encoding":{"x":{"datum":4040,"axis":null},"y":{"datum":38.45,"axis":null},"text":{"field":"v"}}}
]},
{"width":91,"height":89,"resolve":{"axis":{"x":"independent","y":"independent"}},"layer":[
{"data":{"name":"h6"},"mark":{"type":"line","interpolate":"step-after","color":"black","strokeWidth":1.2},"encoding":{"x":{"field":"x","type":"quantitative","scale":{"domain":[0,4096],"nice":false,"zero":false},"axis":{"values":[0,2000,4000],"tickCount":20,"format":"d","title":"ADC CRYSTAL 6","orient":"bottom"}},"y":{"field":"y","type":"quantitative","scale":{"domain":[0,35.2],"nice":false},"axis":{"values":[0,10,20,30],"tickCount":20,"format":"~r","title":null,"orient":"left"}}}},
{"data":{"name":"h6"},"mark":{"type":"point","opacity":0},"encoding":{"x":{"field":"x","type":"quantitative","axis":{"values":[500,1000,1500,2500,3000,3500],"tickCount":50,"labels":false,"tickSize":-2,"title":null,"orient":"bottom"}},"y":{"field":"y","type":"quantitative","axis":{"values":[2,4,6,8,12,14,16,18,22,24,26,28,32,34],"tickCount":50,"labels":false,"tickSize":-2,"title":null,"orient":"left"}}}},
{"data":{"name":"st"},"transform":[{"filter":"datum.p==6"}],"mark":{"type":"rect","fill":"white","stroke":"black","strokeWidth":1},"encoding":{"x":{"datum":2220,"axis":null},"x2":{"datum":4096},"y":{"datum":28.5,"axis":null},"y2":{"datum":35.2}}},
{"data":{"name":"st"},"transform":[{"filter":"datum.p==6"}],"mark":{"type":"text","align":"left","baseline":"top","fontSize":3.6,"lineHeight":4.1,"fontWeight":"bold","color":"black"},"encoding":{"x":{"datum":2290,"axis":null},"y":{"datum":35.05,"axis":null},"text":{"field":"k"}}},
{"data":{"name":"st"},"transform":[{"filter":"datum.p==6"}],"mark":{"type":"text","align":"right","baseline":"top","fontSize":3.6,"lineHeight":4.1,"fontWeight":"bold","color":"black"},"encoding":{"x":{"datum":4040,"axis":null},"y":{"datum":35.05,"axis":null},"text":{"field":"v"}}}
]},
{"width":91,"height":89,"resolve":{"axis":{"x":"independent","y":"independent"}},"layer":[
{"data":{"name":"h7"},"mark":{"type":"line","interpolate":"step-after","color":"black","strokeWidth":1.2},"encoding":{"x":{"field":"x","type":"quantitative","scale":{"domain":[0,4096],"nice":false,"zero":false},"axis":{"values":[0,2000,4000],"tickCount":20,"format":"d","title":"ADC CRYSTAL 7","orient":"bottom"}},"y":{"field":"y","type":"quantitative","scale":{"domain":[0,30.4],"nice":false},"axis":{"values":[0,10,20,30],"tickCount":20,"format":"~r","title":null,"orient":"left"}}}},
{"data":{"name":"h7"},"mark":{"type":"point","opacity":0},"encoding":{"x":{"field":"x","type":"quantitative","axis":{"values":[500,1000,1500,2500,3000,3500],"tickCount":50,"labels":false,"tickSize":-2,"title":null,"orient":"bottom"}},"y":{"field":"y","type":"quantitative","axis":{"values":[2,4,6,8,12,14,16,18,22,24,26,28],"tickCount":50,"labels":false,"tickSize":-2,"title":null,"orient":"left"}}}},
{"data":{"name":"st"},"transform":[{"filter":"datum.p==7"}],"mark":{"type":"rect","fill":"white","stroke":"black","strokeWidth":1},"encoding":{"x":{"datum":2220,"axis":null},"x2":{"datum":4096},"y":{"datum":24.6,"axis":null},"y2":{"datum":30.4}}},
{"data":{"name":"st"},"transform":[{"filter":"datum.p==7"}],"mark":{"type":"text","align":"left","baseline":"top","fontSize":3.6,"lineHeight":4.1,"fontWeight":"bold","color":"black"},"encoding":{"x":{"datum":2290,"axis":null},"y":{"datum":30.3,"axis":null},"text":{"field":"k"}}},
{"data":{"name":"st"},"transform":[{"filter":"datum.p==7"}],"mark":{"type":"text","align":"right","baseline":"top","fontSize":3.6,"lineHeight":4.1,"fontWeight":"bold","color":"black"},"encoding":{"x":{"datum":4040,"axis":null},"y":{"datum":30.3,"axis":null},"text":{"field":"v"}}}
]},
{"width":91,"height":89,"resolve":{"axis":{"x":"independent","y":"independent"}},"layer":[
{"data":{"name":"h8"},"mark":{"type":"line","interpolate":"step-after","color":"black","strokeWidth":1.2},"encoding":{"x":{"field":"x","type":"quantitative","scale":{"domain":[0,4096],"nice":false,"zero":false},"axis":{"values":[0,2000,4000],"tickCount":20,"format":"d","title":"ADC CRYSTAL 8","orient":"bottom"}},"y":{"field":"y","type":"quantitative","scale":{"domain":[0,40.4],"nice":false},"axis":{"values":[0,10,20,30,40],"tickCount":20,"format":"~r","title":null,"orient":"left"}}}},
{"data":{"name":"h8"},"mark":{"type":"point","opacity":0},"encoding":{"x":{"field":"x","type":"quantitative","axis":{"values":[500,1000,1500,2500,3000,3500],"tickCount":50,"labels":false,"tickSize":-2,"title":null,"orient":"bottom"}},"y":{"field":"y","type":"quantitative","axis":{"values":[2,4,6,8,12,14,16,18,22,24,26,28,32,34,36,38],"tickCount":50,"labels":false,"tickSize":-2,"title":null,"orient":"left"}}}},
{"data":{"name":"st"},"transform":[{"filter":"datum.p==8"}],"mark":{"type":"rect","fill":"white","stroke":"black","strokeWidth":1},"encoding":{"x":{"datum":2220,"axis":null},"x2":{"datum":4096},"y":{"datum":32.7,"axis":null},"y2":{"datum":40.4}}},
{"data":{"name":"st"},"transform":[{"filter":"datum.p==8"}],"mark":{"type":"text","align":"left","baseline":"top","fontSize":3.6,"lineHeight":4.1,"fontWeight":"bold","color":"black"},"encoding":{"x":{"datum":2290,"axis":null},"y":{"datum":40.25,"axis":null},"text":{"field":"k"}}},
{"data":{"name":"st"},"transform":[{"filter":"datum.p==8"}],"mark":{"type":"text","align":"right","baseline":"top","fontSize":3.6,"lineHeight":4.1,"fontWeight":"bold","color":"black"},"encoding":{"x":{"datum":4040,"axis":null},"y":{"datum":40.25,"axis":null},"text":{"field":"v"}}}
]},
{"width":91,"height":89,"resolve":{"axis":{"x":"independent","y":"independent"}},"layer":[
{"data":{"name":"h9"},"mark":{"type":"line","interpolate":"step-after","color":"black","strokeWidth":1.2},"encoding":{"x":{"field":"x","type":"quantitative","scale":{"domain":[0,4096],"nice":false,"zero":false},"axis":{"values":[0,2000,4000],"tickCount":20,"format":"d","title":"ADC CRYSTAL 9","orient":"bottom"}},"y":{"field":"y","type":"quantitative","scale":{"domain":[0,14.4],"nice":false},"axis":{"values":[0,5,10],"tickCount":20,"format":"~r","title":null,"orient":"left"}}}},
{"data":{"name":"h9"},"mark":{"type":"point","opacity":0},"encoding":{"x":{"field":"x","type":"quantitative","axis":{"values":[500,1000,1500,2500,3000,3500],"tickCount":50,"labels":false,"tickSize":-2,"title":null,"orient":"bottom"}},"y":{"field":"y","type":"quantitative","axis":{"values":[1,2,3,4,6,7,8,9,11,12,13,14],"tickCount":50,"labels":false,"tickSize":-2,"title":null,"orient":"left"}}}},
{"data":{"name":"st"},"transform":[{"filter":"datum.p==9"}],"mark":{"type":"rect","fill":"white","stroke":"black","strokeWidth":1},"encoding":{"x":{"datum":2220,"axis":null},"x2":{"datum":4096},"y":{"datum":11.66,"axis":null},"y2":{"datum":14.4}}},
{"data":{"name":"st"},"transform":[{"filter":"datum.p==9"}],"mark":{"type":"text","align":"left","baseline":"top","fontSize":3.6,"lineHeight":4.1,"fontWeight":"bold","color":"black"},"encoding":{"x":{"datum":2290,"axis":null},"y":{"datum":14.35,"axis":null},"text":{"field":"k"}}},
{"data":{"name":"st"},"transform":[{"filter":"datum.p==9"}],"mark":{"type":"text","align":"right","baseline":"top","fontSize":3.6,"lineHeight":4.1,"fontWeight":"bold","color":"black"},"encoding":{"x":{"datum":4040,"axis":null},"y":{"datum":14.35,"axis":null},"text":{"field":"v"}}}
]}
],
"config":{
"font":"Liberation Sans",
"background":"white",
"view":{"stroke":"black","strokeWidth":1},
"axis":{"grid":false,"domain":false,"tickColor":"black","tickSize":-4,"tickWidth":1,"labelColor":"black","labelFont":"Liberation Sans","labelFontSize":8,"labelOverlap":false,"labelFlush":false,"titleFont":"Liberation Sans","titleFontSize":7.5,"titleFontWeight":"normal","titleColor":"black"},
"axisX":{"labelPadding":8,"titlePadding":10,"titleX":37.5,"titleAlign":"center"},
"axisY":{"labelPadding":11.5}
}
}
